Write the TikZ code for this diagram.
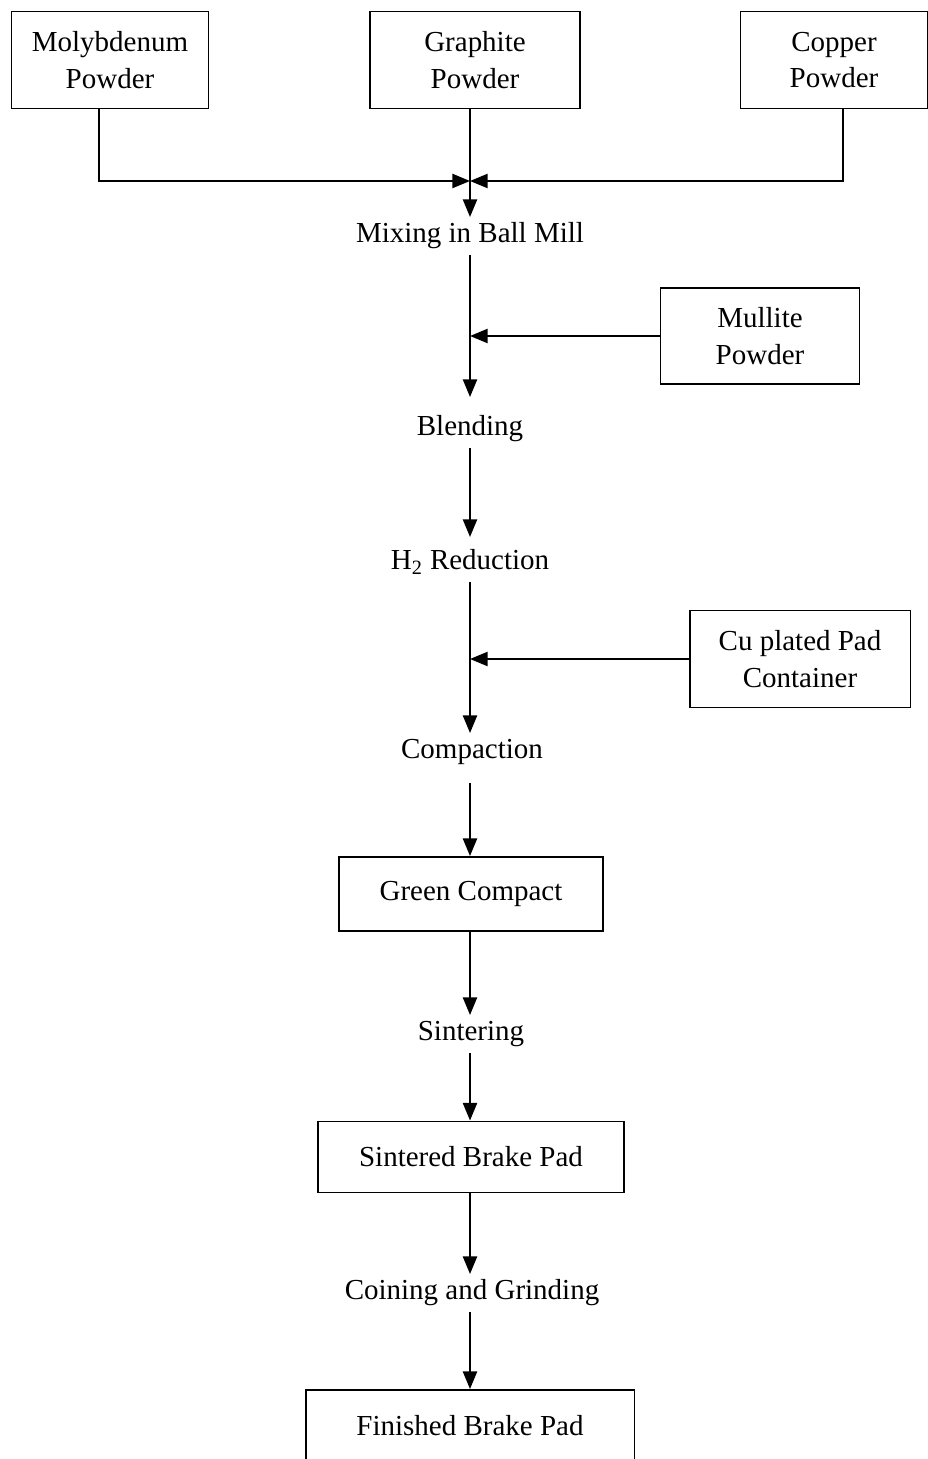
\documentclass[tikz,border=0pt]{standalone}
\usepackage{fontspec}
\setmainfont{Liberation Serif}
\usetikzlibrary{positioning,arrows.meta,calc}

\begin{document}
\begin{tikzpicture}[
		x=0.02cm, y=-0.02cm,
		> = {Triangle[width=8pt,length=10pt]},
		line width=1.1pt,
		font=\fontsize{16.5}{21}\selectfont,
		box/.style = {draw, align=center, inner sep=2pt},
		stage/.style = {inner sep=3pt, text height=11pt, text depth=3.5pt}
		]
		\useasboundingbox (0,0) rectangle (928,1459);
		% raw powders
		\node[box, minimum width=3.94cm, minimum height=1.94cm] at (110,60) (moly) {Molybdenum\\Powder};
		\node[box, minimum width=4.2cm, minimum height=1.94cm] at (475,60) (graphite) {Graphite\\Powder};
		\node[box, minimum width=3.74cm, minimum height=1.94cm] at (834,60) (copper) {Copper\\Powder};
		
		% process stages
		\node[stage] at (470,236) (mix) {Mixing in Ball Mill};
		\node[stage] at (470,429) (blend) {Blending};
		\node[stage] at (470,563) (h2) {H\textsubscript{2} Reduction};
		\node[stage] at (472,752) (comp) {Compaction};
		\node[box, minimum width=5.28cm, minimum height=1.48cm] at (471,894) (green) {Green Compact};
		\node[stage] at (471,1034) (sinter) {Sintering};
		\node[box, minimum width=6.12cm, minimum height=1.42cm] at (471,1157) (sintered) {Sintered Brake Pad};
		\node[stage] at (472,1293) (coin) {Coining and Grinding};
		\node[box, minimum width=6.58cm, minimum height=1.44cm] at (470,1426) (finished) {Finished Brake Pad};
		
		% additions
		\node[box, minimum width=3.98cm, minimum height=1.92cm] at (760,336) (mullite) {Mullite\\Powder};
		\node[box, minimum width=4.42cm, minimum height=1.94cm] at (800,659) (cupad) {Cu plated Pad\\Container};
		
		% feed lines
		\coordinate (join) at (470,181);
		\draw[->] ($(moly.south)+(-11,0)$) |- (join);
		\draw[->] ($(copper.south)+(9,0)$) |- (join);
		\draw[->] (graphite.south -| mix.north) -- (mix.north);
		\draw[->] (mullite.west) -- (mullite.west -| mix.south);
		\draw[->] (cupad.west) -- (cupad.west -| h2.south);
		
		% main flow
		\draw[->, shorten >=7.4pt] (mix) -- (blend);
		\draw[->, shorten >=4pt] (blend) -- (h2);
		\draw[->] (h2.south) -- (h2.south |- comp.north);
		\draw[->, shorten <=7pt] (comp.south -| h2.south) -- (h2.south |- green.north);
		\draw[->] (h2.south |- green.south) -- (h2.south |- sinter.north);
		\draw[->] (h2.south |- sinter.south) -- (h2.south |- sintered.north);
		\draw[->] (h2.south |- sintered.south) -- (h2.south |- coin.north);
		\draw[->] (h2.south |- coin.south) -- (h2.south |- finished.north);
\end{tikzpicture}
\end{document}
